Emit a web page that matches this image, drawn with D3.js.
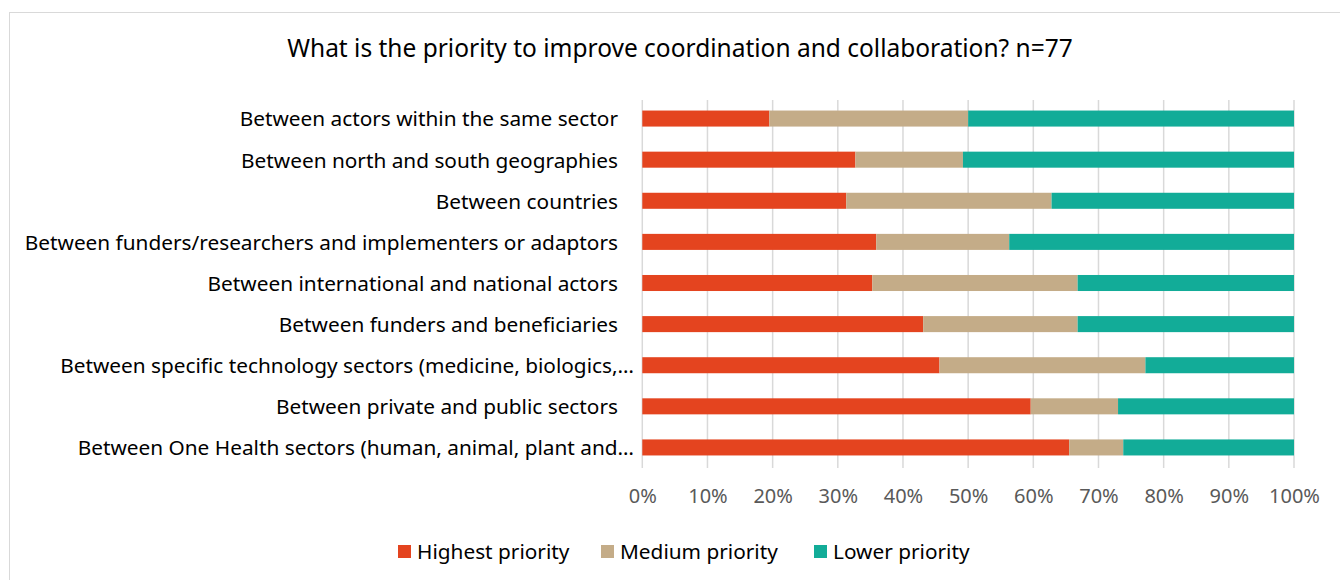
<!DOCTYPE html>
<html>
<head>
<meta charset="utf-8">
<script src="https://cdn.jsdelivr.net/npm/d3@7"></script>
<style>
  body { margin: 0; background: #fff; }
  text { font-family: "Noto Sans", "Open Sans", sans-serif; }
</style>
</head>
<body>
<div id="chart"></div>
<script>
var categories = [
  "Between actors within the same sector",
  "Between north and south geographies",
  "Between countries",
  "Between funders/researchers and implementers or adaptors",
  "Between international and national actors",
  "Between funders and beneficiaries",
  "Between specific technology sectors (medicine, biologics,\u2026",
  "Between private and public sectors",
  "Between One Health sectors (human, animal, plant and\u2026"
];
var highest = [19.5, 32.7, 31.3, 35.9, 35.3, 43.1, 45.6, 59.6, 65.5];
var medium  = [30.5, 16.5, 31.5, 20.4, 31.5, 23.7, 31.6, 13.4, 8.3];
var lower   = [50.0, 50.8, 37.2, 43.7, 33.2, 33.2, 22.8, 27.0, 26.2];
var seriesNames = ["Highest priority", "Medium priority", "Lower priority"];
var ticks = [0, 10, 20, 30, 40, 50, 60, 70, 80, 90, 100];
var colors = ["#e4441f", "#c4ac88", "#12ac98"];

var W = 1340, H = 580;
var margin = {top: 98, right: 46, bottom: 112, left: 642};
var fontFam = "'Noto Sans', 'Open Sans', sans-serif";

var svg = d3.select("#chart").append("svg")
    .attr("width", W)
    .attr("height", H);

// chart frame
svg.append("rect")
    .attr("x", 9.5).attr("y", 12.5)
    .attr("width", W + 20).attr("height", H + 20)
    .attr("fill", "#fff")
    .attr("stroke", "#d9d9d9");

svg.append("text")
    .attr("x", 680).attr("y", 57)
    .attr("text-anchor", "middle")
    .style("font-size", "24.5px")
    .style("fill", "#000")
    .text("What is the priority to improve coordination and collaboration? n=77");

var data = categories.map(function(c, i) {
  return {cat: c, highest: highest[i], medium: medium[i], lower: lower[i]};
});
var stack = d3.stack().keys(["highest", "medium", "lower"]);
var layers = stack(data);

var x = d3.scaleLinear().domain([0, 100]).range([margin.left + 0.3, W - margin.right]);
var y = d3.scaleBand().domain(categories)
    .range([margin.top, H - margin.bottom])
    .paddingInner(0.61).paddingOuter(0.305);

// gridlines
svg.append("g").selectAll("line")
    .data(ticks)
    .enter().append("line")
    .attr("x1", function(d) { return x(d); })
    .attr("x2", function(d) { return x(d); })
    .attr("y1", margin.top + 2)
    .attr("y2", H - margin.bottom)
    .attr("stroke", "#d9d9d9")
    .attr("stroke-width", 1.5);

svg.append("g").selectAll("g")
    .data(layers)
    .enter().append("g")
    .attr("fill", function(d, i) { return colors[i]; })
    .selectAll("rect")
    .data(function(d) { return d; })
    .enter().append("rect")
    .attr("x", function(d) { return x(d[0]); })
    .attr("y", function(d) { return y(d.data.cat); })
    .attr("width", function(d) { return x(d[1]) - x(d[0]); })
    .attr("height", y.bandwidth());

// x axis labels
var xAxis = svg.append("g")
    .attr("transform", "translate(0," + (H - margin.bottom) + ")")
    .call(d3.axisBottom(x).tickValues(ticks)
      .tickFormat(function(d) { return d + "%"; })
      .tickSize(0).tickPadding(21));
xAxis.select(".domain").remove();
xAxis.selectAll("text")
    .style("font-family", fontFam)
    .style("font-size", "20px")
    .attr("fill", "#595959");

// y axis labels (truncated ones hang past the others, like Excel does)
var yAxis = svg.append("g")
    .attr("transform", "translate(" + margin.left + ",0)")
    .call(d3.axisLeft(y).tickSize(0).tickPadding(24));
yAxis.select(".domain").remove();
yAxis.selectAll("text")
    .attr("dy", "0.38em")
    .attr("dx", function(d) { return d.slice(-1) == "\u2026" ? 16 : 0; })
    .style("font-family", fontFam)
    .style("font-size", "20.8px")
    .attr("fill", "#000");

// legend
var legendX = [398, 601, 814];
var legend = svg.append("g").selectAll("g")
    .data(seriesNames)
    .enter().append("g")
    .attr("transform", function(d, i) { return "translate(" + legendX[i] + ",545)"; });
legend.append("rect")
    .attr("width", 13).attr("height", 13)
    .attr("fill", function(d, i) { return colors[i]; });
legend.append("text")
    .attr("x", 19).attr("y", 13.5)
    .style("font-size", "20.8px")
    .style("fill", "#000")
    .text(function(d) { return d; });
</script>
</body>
</html>
